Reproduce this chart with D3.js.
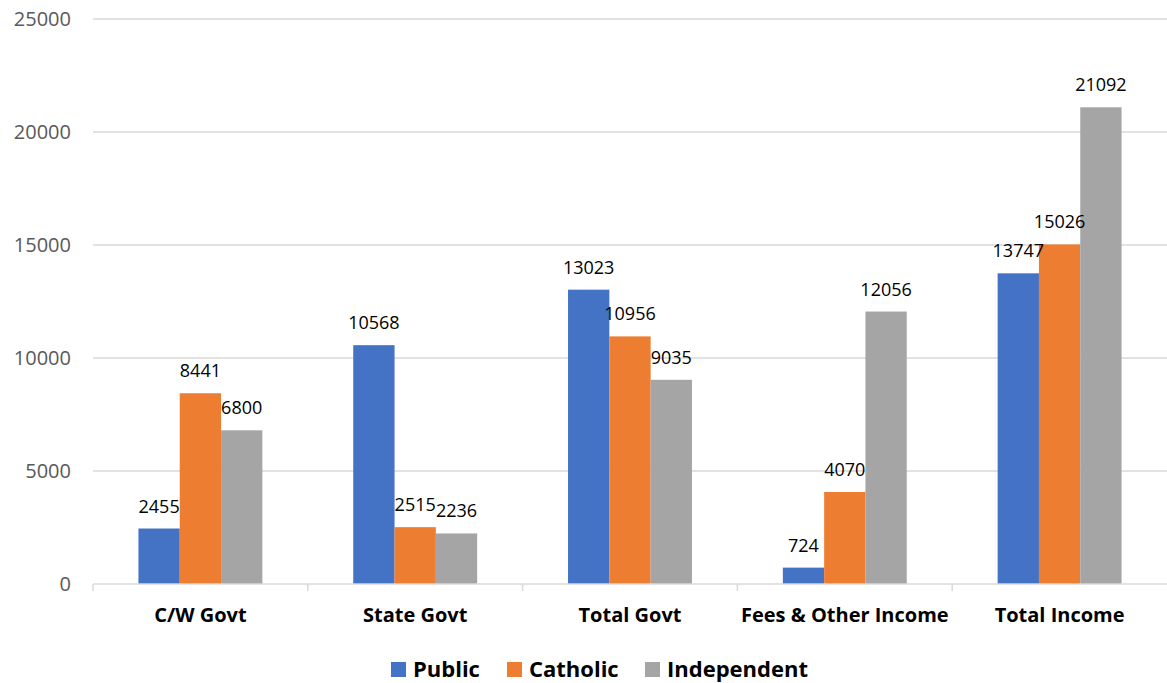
<!DOCTYPE html>
<html>
<head>
<meta charset="utf-8">
<script src="https://cdn.jsdelivr.net/npm/d3@7"></script>
<style>
  body { margin: 0; background: #fff; }
  svg { display: block; font-family: "Open Sans", sans-serif; }
</style>
</head>
<body>
<svg id="chart" width="1167" height="683"></svg>
<script>
var categories = ['C/W Govt', 'State Govt', 'Total Govt', 'Fees & Other Income', 'Total Income'];
var seriesNames = ['Public', 'Catholic', 'Independent'];
var publicVals = [2455, 10568, 13023, 724, 13747];
var catholicVals = [8441, 2515, 10956, 4070, 15026];
var independentVals = [6800, 2236, 9035, 12056, 21092];
var yTicks = [0, 5000, 10000, 15000, 20000, 25000];
var colors = ['#4472C4', '#ED7D31', '#A5A5A5'];

var seriesVals = [publicVals, catholicVals, independentVals];

var svg = d3.select('#chart');
var plotLeft = 93, plotRight = 1167, plotTop = 19, plotBottom = 584;

var x0 = d3.scaleBand()
  .domain(categories)
  .range([plotLeft, plotRight]);

var x1 = d3.scaleBand()
  .domain(seriesNames)
  .range([0, x0.bandwidth()])
  .paddingInner(0)
  .paddingOuter(1.1);

var y = d3.scaleLinear()
  .domain([0, 25000])
  .range([plotBottom, plotTop]);

// gridlines + y labels
var grid = svg.append('g');
grid.selectAll('line')
  .data(yTicks.slice(1))
  .enter()
  .append('line')
  .attr('x1', plotLeft)
  .attr('x2', plotRight)
  .attr('y1', function(d) { return y(d); })
  .attr('y2', function(d) { return y(d); })
  .style('stroke', '#D9D9D9')
  .style('stroke-width', 1.5);

grid.selectAll('text')
  .data(yTicks)
  .enter()
  .append('text')
  .attr('x', 71)
  .attr('y', function(d) { return y(d); })
  .attr('dy', '0.35em')
  .attr('text-anchor', 'end')
  .style('font-size', '20px')
  .style('fill', '#595959')
  .text(function(d) { return d; });

// bars
var groups = svg.append('g')
  .selectAll('g')
  .data(categories)
  .enter()
  .append('g')
  .attr('transform', function(d) { return 'translate(' + x0(d) + ',0)'; });

groups.selectAll('rect')
  .data(function(d, i) {
    return seriesNames.map(function(s, j) { return { s: s, v: seriesVals[j][i], c: colors[j] }; });
  })
  .enter()
  .append('rect')
  .attr('x', function(d) { return x1(d.s); })
  .attr('y', function(d) { return y(d.v); })
  .attr('width', x1.bandwidth())
  .attr('height', function(d) { return plotBottom - y(d.v); })
  .attr('fill', function(d) { return d.c; });

groups.selectAll('text')
  .data(function(d, i) {
    return seriesNames.map(function(s, j) { return { s: s, v: seriesVals[j][i] }; });
  })
  .enter()
  .append('text')
  .attr('x', function(d) { return x1(d.s) + x1.bandwidth() / 2; })
  .attr('y', function(d) { return y(d.v) - 16; })
  .attr('text-anchor', 'middle')
  .style('font-size', '18px')
  .style('fill', '#000')
  .text(function(d) { return d.v; });

// x axis
var xAxis = svg.append('g')
  .attr('transform', 'translate(0,' + plotBottom + ')')
  .call(d3.axisBottom(x0).tickSize(0).tickPadding(0));
xAxis.select('.domain').remove();
xAxis.append('line')
  .attr('x1', plotLeft).attr('x2', plotRight)
  .style('stroke', '#D9D9D9').style('stroke-width', 1.5);
xAxis.selectAll('.sep')
  .data(categories)
  .enter()
  .append('line')
  .attr('class', 'sep')
  .attr('x1', function(d) { return x0(d); })
  .attr('x2', function(d) { return x0(d); })
  .attr('y1', 0).attr('y2', 7)
  .style('stroke', '#D9D9D9').style('stroke-width', 1.5);
xAxis.selectAll('.tick text')
  .attr('y', 31)
  .attr('dy', '0.35em')
  .style('font-family', '"Open Sans", sans-serif')
  .style('font-size', '20px')
  .style('font-weight', 'bold')
  .style('fill', '#000');

// legend
var legendItems = [
  { name: 'Public', x: 391 },
  { name: 'Catholic', x: 507 },
  { name: 'Independent', x: 645 }
];
var legend = svg.append('g');
legendItems.forEach(function(it, i) {
  legend.append('rect')
    .attr('x', it.x).attr('y', 662)
    .attr('width', 15).attr('height', 15)
    .attr('fill', colors[i]);
  legend.append('text')
    .attr('x', it.x + 22).attr('y', 669)
    .attr('dy', '0.35em')
    .style('font-size', '22px')
    .style('font-weight', 'bold')
    .text(it.name);
});
</script>
</body>
</html>
